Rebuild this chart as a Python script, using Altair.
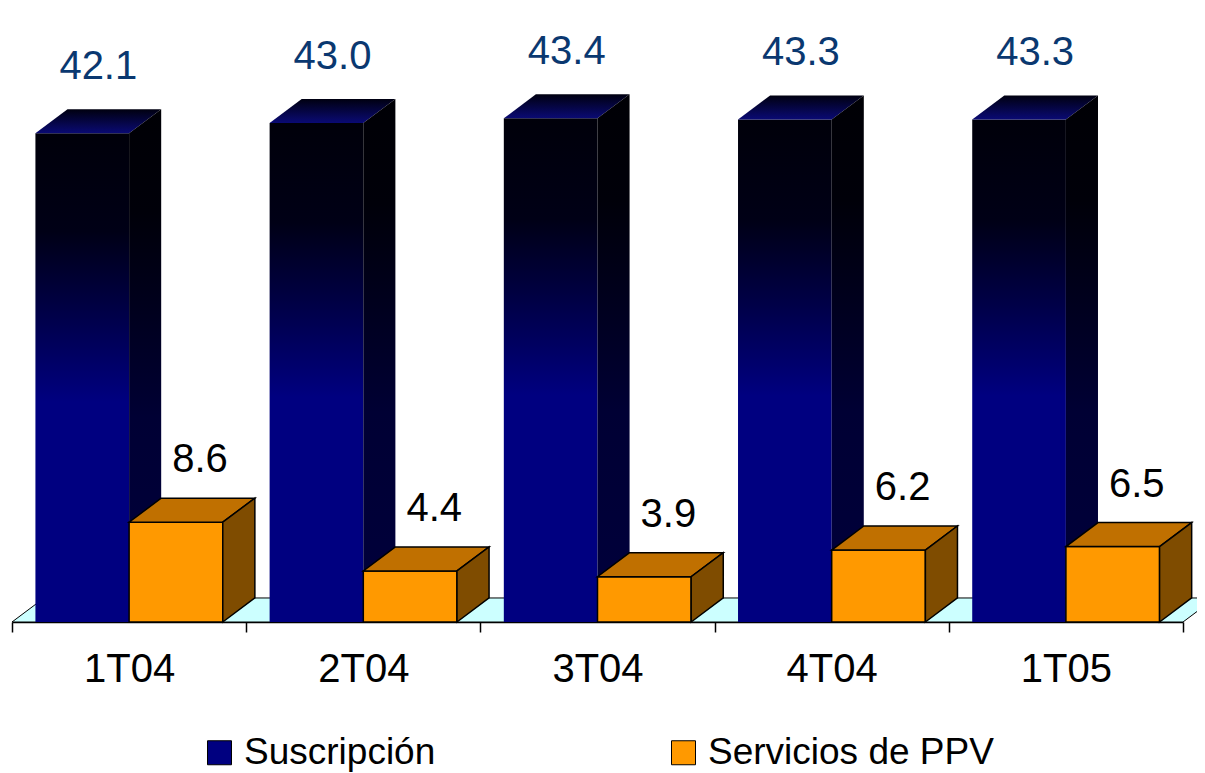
import altair as alt
import pandas as pd

# ---- data ----
categories = ["1T04", "2T04", "3T04", "4T04", "1T05"]
suscripcion = [42.1, 43.0, 43.4, 43.3, 43.3]
ppv = [8.6, 4.4, 3.9, 6.2, 6.5]
series_names = ["Suscripción", "Servicios de PPV"]

# ---- 3D geometry constants (axis units) ----
GAP = 0.1
BAR_W = 0.4
DX = 0.137
DY = 2.07
Y_MAX = 52.9
N = len(categories)

fronts, tops, sides, labels = [], [], [], []
for s_idx, (name, vals) in enumerate(zip(series_names, [suscripcion, ppv])):
    for i, v in enumerate(vals):
        x0 = i + GAP + s_idx * BAR_W
        x1 = x0 + BAR_W
        bid = f"{s_idx}-{i}"
        fronts.append(dict(series=name, id=bid, x0=x0, x1=x1, y0=0.0, y1=v))
        tops.append(dict(series=name, id=bid, y=v, xa=x0, xb=x1))
        tops.append(dict(series=name, id=bid, y=v + DY, xa=x0 + DX, xb=x1 + DX))
        sides.append(dict(series=name, id=bid, x=x1, ya=0.0, yb=v))
        sides.append(dict(series=name, id=bid, x=x1 + DX, ya=DY, yb=v + DY))
        labels.append(dict(series=name, x=(x0 + x1) / 2 + DX / 2, y=v + DY, text=f"{v:.1f}"))

front_df = pd.DataFrame(fronts)
top_df = pd.DataFrame(tops)
side_df = pd.DataFrame(sides)
label_df = pd.DataFrame(labels)
floor_df = pd.DataFrame([dict(y=0.0, xa=0.0, xb=float(N)), dict(y=DY, xa=DX, xb=N + DX)])
legend_df = pd.DataFrame(dict(series=series_names))

FONT = "Liberation Sans"
XS = alt.Scale(domain=[0, N], nice=False, zero=False)
YS = alt.Scale(domain=[0, Y_MAX], nice=False, zero=False)

arr = "[" + ",".join(f"'{c}'" for c in categories) + "]"
XA = alt.Axis(
    values=[k / 2 for k in range(2 * N + 1)],
    labelExpr=f"datum.value % 1 == 0 ? '' : {arr}[floor(datum.value)]",
    tickSize=10, tickColor="black", tickWidth=1.5,
    tickOpacity={"condition": {"test": "datum.value % 1 != 0", "value": 0}, "value": 1},
    domainColor="black", domainWidth=1.5,
    labelFontSize=40, labelFont=FONT, labelColor="black", labelPadding=17,
    labelAngle=0, labelOverlap=False, labelFlush=False, labelBound=False,
    grid=False, title=None,
)


def grad(stops):
    return alt.LinearGradient(
        gradient="linear", x1=0, x2=0, y1=1, y2=0,
        stops=[alt.GradientStop(offset=o, color=c) for o, c in stops],
    )


def front_layer(name, **mk):
    return alt.Chart(front_df).transform_filter(alt.datum.series == name).mark_rect(**mk).encode(
        x=alt.X("x0:Q", scale=XS, axis=XA), x2="x1:Q",
        y=alt.Y("y0:Q", scale=YS, axis=None), y2="y1:Q",
    )


def top_layer(name, **mk):
    return alt.Chart(top_df).transform_filter(alt.datum.series == name).mark_area(orient="horizontal", **mk).encode(
        y=alt.Y("y:Q", scale=YS, axis=None),
        x=alt.X("xa:Q", scale=XS, axis=XA), x2="xb:Q",
        detail="id:N",
    )


def side_layer(name, **mk):
    return alt.Chart(side_df).transform_filter(alt.datum.series == name).mark_area(orient="vertical", **mk).encode(
        x=alt.X("x:Q", scale=XS, axis=XA),
        y=alt.Y("ya:Q", scale=YS, axis=None), y2="yb:Q",
        detail="id:N",
    )


floor = alt.Chart(floor_df).mark_area(orient="horizontal", color="#CCFFFF", stroke="black", strokeWidth=1).encode(
    y=alt.Y("y:Q", scale=YS, axis=None),
    x=alt.X("xa:Q", scale=XS, axis=XA), x2="xb:Q",
)

legend_layer = alt.Chart(legend_df).transform_filter("false").mark_square(filled=True).encode(
    color=alt.Color(
        "series:N",
        scale=alt.Scale(domain=series_names, range=["#000080", "#FF9900"]),
        legend=alt.Legend(
            orient="none", legendX=189, legendY=726, direction="horizontal", title=None,
            symbolType="square", symbolSize=576, symbolStrokeColor="black", symbolStrokeWidth=1,
            symbolOpacity=1, labelFontSize=37, labelFont=FONT, labelColor="black",
            labelOffset=6, columnPadding=229, padding=0, labelLimit=0,
        ),
    )
)

blue_front = front_layer(series_names[0], color=grad([
    (0, "#000080"), (0.45, "#000080"), (0.65, "#000042"), (0.8, "#000016"), (1, "#00000a")]))
blue_top = top_layer(series_names[0], color=grad([(0, "#0a0a74"), (1, "#000010")]))
blue_side = side_layer(series_names[0], color=grad([
    (0, "#00003c"), (0.4, "#000034"), (0.8, "#000009"), (1, "#000005")]))
orange_front = front_layer(series_names[1], color="#FF9900", stroke="black", strokeWidth=1.5)
orange_top = top_layer(series_names[1], color="#C07000", stroke="black", strokeWidth=1.5)
orange_side = side_layer(series_names[1], color="#7F4C00", stroke="black", strokeWidth=1.5)

blue_text = alt.Chart(label_df).transform_filter(alt.datum.series == series_names[0]).mark_text(
    font=FONT, fontSize=40, color="#0a3870", baseline="alphabetic", dy=-30
).encode(x=alt.X("x:Q", scale=XS, axis=XA), y=alt.Y("y:Q", scale=YS, axis=None), text="text:N")

orange_text = alt.Chart(label_df).transform_filter(alt.datum.series == series_names[1]).mark_text(
    font=FONT, fontSize=40, color="black", baseline="alphabetic", dy=-26, dx=8
).encode(x=alt.X("x:Q", scale=XS, axis=XA), y=alt.Y("y:Q", scale=YS, axis=None), text="text:N")

chart = alt.layer(
    floor, legend_layer,
    blue_front, blue_top, blue_side,
    orange_front, orange_top, orange_side,
    blue_text, orange_text,
).properties(
    width=1171, height=614,
    padding={"left": 4, "top": 0, "right": 14, "bottom": 151},
    autosize=alt.AutoSizeParams(type="none"),
).configure_view(stroke=None)

chart.save("out.html", embed_options={"renderer": "svg", "actions": False})
